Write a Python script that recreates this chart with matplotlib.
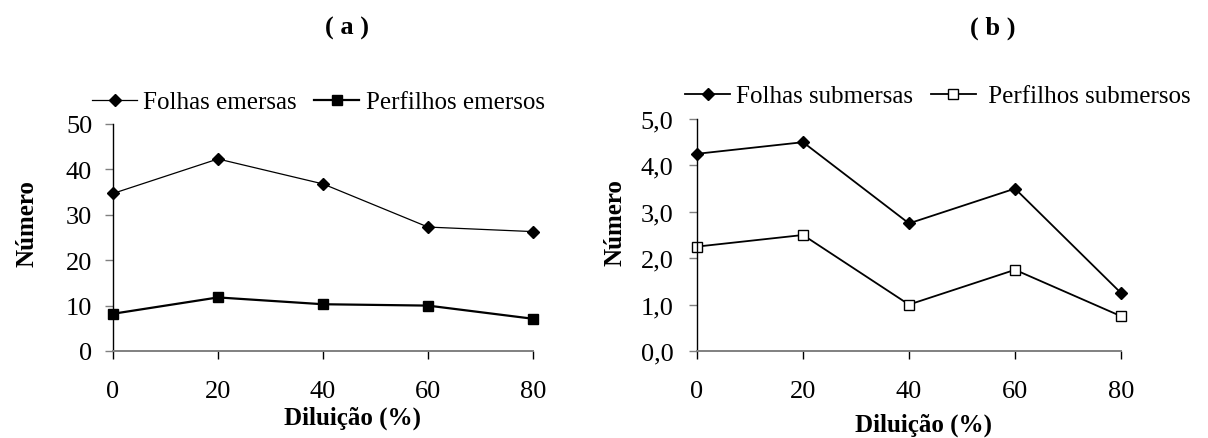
import matplotlib
matplotlib.use('Agg')
import matplotlib.pyplot as plt
from matplotlib.ticker import FuncFormatter

plt.rcParams['font.family'] = ['Liberation Serif', 'DejaVu Serif']

# Diluição (%) and counts per treatment
diluicao = [0, 20, 40, 60, 80]

folhas_emersas = [34.7, 42.3, 36.8, 27.3, 26.3]
perfilhos_emersos = [8.2, 11.8, 10.3, 10.0, 7.1]

folhas_submersas = [4.25, 4.5, 2.75, 3.5, 1.25]
perfilhos_submersos = [2.25, 2.5, 1.0, 1.75, 0.75]

W, H = 1208, 439
fig = plt.figure(figsize=(W / 100, H / 100), dpi=100, facecolor='white')

FS = 18
TICK_FS = 19


def px(x, y):
    return x / W, 1 - y / H


def style_axes(ax, ylim, yticks, fmt, ypad):
    ax.set_xlim(0, 80)
    ax.set_ylim(*ylim)
    ax.set_xticks(diluicao)
    ax.set_yticks(yticks)
    ax.yaxis.set_major_formatter(FuncFormatter(fmt))
    for s in ('top', 'right'):
        ax.spines[s].set_visible(False)
    ax.spines['left'].set_color('black')
    ax.spines['left'].set_linewidth(1.0)
    ax.spines['bottom'].set_color('#808080')
    ax.spines['bottom'].set_linewidth(1.4)
    ax.tick_params(axis='x', direction='out', length=6, width=1.0,
                   color='black', labelsize=TICK_FS, pad=15)
    ax.tick_params(axis='y', direction='out', length=6, width=1.0,
                   color='#808080', labelsize=TICK_FS, pad=ypad)


def add_legend(ax, x, y):
    ax.legend(loc='center left', bbox_to_anchor=px(x, y),
              bbox_transform=fig.transFigure, ncol=2, frameon=False,
              fontsize=FS, handlelength=1.8, handletextpad=0.25,
              columnspacing=0.7, borderpad=0, borderaxespad=0)


# ---- (a) emersas ----
axa = fig.add_axes([113 / W, 1 - 352 / H, 420 / W, 227 / H])
axa.plot(diluicao, folhas_emersas, color='black', lw=0.9, marker='D',
         ms=6.5, mfc='black', mec='black', clip_on=False,
         label='Folhas emersas')
axa.plot(diluicao, perfilhos_emersos, color='black', lw=1.6, marker='s',
         ms=7, mfc='black', mec='black', clip_on=False,
         label='Perfilhos emersos')
style_axes(axa, (0, 50), [0, 10, 20, 30, 40, 50],
           lambda v, p: f'{v:.0f}', 9)
axa.set_ylabel('Número', fontsize=FS, fontweight='bold', va='center')
axa.yaxis.set_label_coords(-0.205, 0.568)
axa.set_xlabel('Diluição (%)', fontsize=FS, fontweight='bold', va='center')
axa.xaxis.set_label_coords(0.571, -0.291)
add_legend(axa, 92, 103)

# ---- (b) submersas ----
axb = fig.add_axes([697 / W, 1 - 352 / H, 424 / W, 232 / H])
axb.plot(diluicao, folhas_submersas, color='black', lw=1.3, marker='D',
         ms=6.5, mfc='black', mec='black', clip_on=False,
         label='Folhas submersas')
axb.plot(diluicao, perfilhos_submersos, color='black', lw=1.3, marker='s',
         ms=7, mfc='white', mec='black', mew=1.0, clip_on=False,
         label=' Perfilhos submersos')
style_axes(axb, (0, 5), [0, 1, 2, 3, 4, 5],
           lambda v, p: f'{v:.1f}'.replace('.', ','), 11)
axb.set_ylabel('Número', fontsize=FS, fontweight='bold', va='center')
axb.yaxis.set_label_coords(-0.193, 0.556)
axb.set_xlabel('Diluição (%)', fontsize=FS, fontweight='bold', va='center')
axb.xaxis.set_label_coords(0.535, -0.315)
add_legend(axb, 685, 97)

fig.text(*px(347, 28), '( a )', fontsize=FS + 1, fontweight='bold',
         ha='center', va='center')
fig.text(*px(993, 28), '( b )', fontsize=FS + 1, fontweight='bold',
         ha='center', va='center')

fig.savefig('out.png', dpi=100, facecolor='white')
